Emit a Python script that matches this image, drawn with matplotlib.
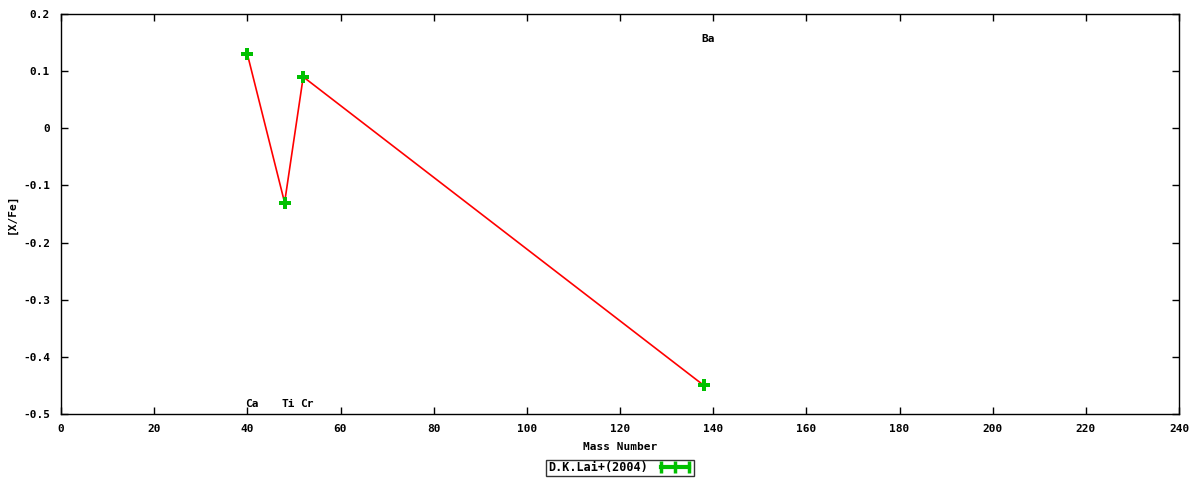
import matplotlib
matplotlib.use('Agg')
import matplotlib.pyplot as plt
from matplotlib.lines import Line2D

elements = ['Ca', 'Ti', 'Cr', 'Ba']
mass_number = [40, 48, 52, 138]
x_fe = [0.13, -0.13, 0.09, -0.45]
label_x = [40.9, 48.7, 52.8, 138.9]
label_y = [-0.482, -0.482, -0.482, 0.157]
series_name = 'D.K.Lai+(2004)'

plt.rcParams['font.family'] = 'DejaVu Sans Mono'
plt.rcParams['font.weight'] = 'bold'
plt.rcParams['font.size'] = 8


def main():
    fig = plt.figure(figsize=(12, 4.8), dpi=100)
    ax = fig.add_axes([61 / 1200, 1 - 414 / 480, (1179 - 61) / 1200, (414 - 14) / 480])

    ax.plot(mass_number, x_fe, color='red', linewidth=1.2, zorder=2)
    ax.plot(mass_number, x_fe, linestyle='none', marker='P', markersize=8,
            color='#00c000', markeredgewidth=0, zorder=3)

    for name, lx, ly in zip(elements, label_x, label_y):
        ax.text(lx, ly, name, ha='center', va='center', fontsize=8, fontweight='bold')

    ax.set_xlim(0, 240)
    ax.set_ylim(-0.5, 0.2)
    ax.set_xticks(range(0, 241, 20))
    yt = [-0.5, -0.4, -0.3, -0.2, -0.1, 0, 0.1, 0.2]
    ax.set_yticks(yt)
    ax.set_yticklabels(['-0.5', '-0.4', '-0.3', '-0.2', '-0.1', '0', '0.1', '0.2'])
    ax.tick_params(direction='in', top=True, right=True, length=5, width=1)
    ax.tick_params(axis='x', pad=7)
    ax.tick_params(axis='y', pad=8)
    for s in ax.spines.values():
        s.set_linewidth(1)
    ax.set_xlabel('Mass Number', fontweight='bold', va='center')
    ax.xaxis.set_label_coords(0.5, (414 - 447) / 400)
    ax.set_ylabel('[X/Fe]', fontweight='bold', va='center')
    ax.yaxis.set_label_coords((12 - 61) / 1118, 0.5)

    handle = Line2D([], [], color='#00c000', linewidth=3, marker='|',
                    markersize=9, markeredgewidth=2.5)
    leg = fig.legend([handle], [series_name], loc='center', bbox_to_anchor=(0.517, 0.025),
                     numpoints=3, markerfirst=False, frameon=True, fancybox=False,
                     borderpad=0.15, handlelength=3, handletextpad=0.8, borderaxespad=0,
                     prop={'family': 'DejaVu Sans Mono', 'weight': 'bold', 'size': 8.5})
    leg.get_frame().set_edgecolor('black')
    leg.get_frame().set_linewidth(1)

    fig.savefig('out.png', dpi=100)


if __name__ == '__main__':
    main()
